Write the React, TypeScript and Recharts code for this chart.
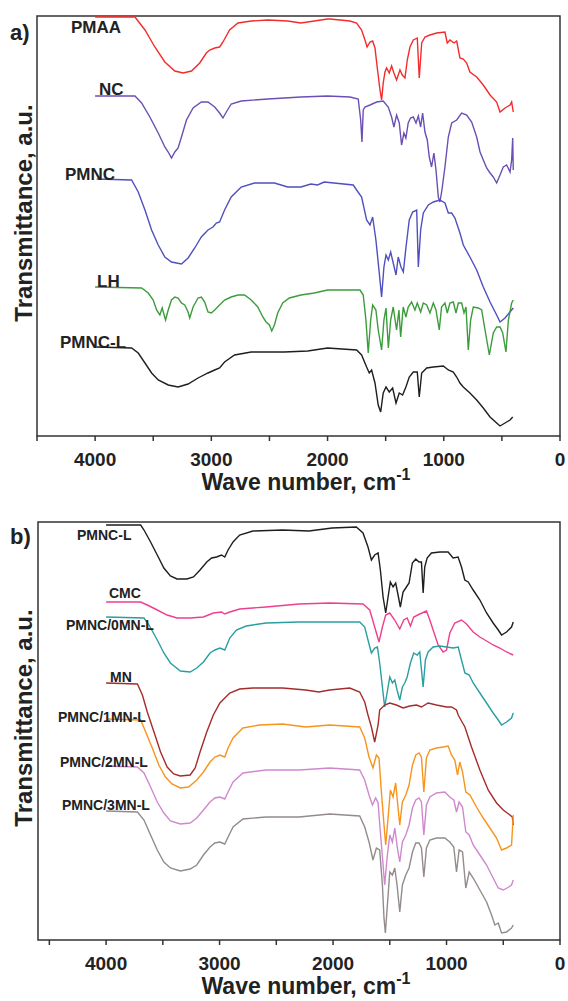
import { LineChart, Line, XAxis, YAxis, ReferenceArea } from 'recharts';

// FTIR spectra, [wave number cm-1, transmittance a.u. (offset stacked)]
const pmaa: [number, number][] = [
  [4000, 419], [3657, 419], [3571, 406], [3486, 389], [3400, 374], [3314, 365], [3243, 363], [3171, 365],
  [3100, 373], [3043, 383], [3014, 386], [2971, 388], [2929, 389], [2900, 394], [2843, 406], [2771, 413],
  [2657, 415], [2514, 416], [2343, 415], [2229, 413], [2114, 415], [2000, 417], [1979, 417], [1807, 415],
  [1750, 413], [1707, 406], [1678, 396], [1660, 389], [1635, 394], [1612, 395], [1592, 388], [1572, 368],
  [1549, 346], [1535, 336], [1521, 353], [1506, 364], [1492, 368], [1469, 363], [1449, 370], [1429, 363],
  [1406, 356], [1377, 366], [1357, 361], [1334, 358], [1314, 376], [1291, 389], [1262, 396], [1228, 398],
  [1211, 358], [1190, 393], [1162, 399], [1119, 401], [1061, 403], [990, 404], [970, 393], [947, 396],
  [912, 393], [889, 395], [861, 378], [832, 377], [803, 373], [775, 364], [717, 359], [660, 351],
  [602, 341], [545, 334], [516, 324], [473, 328], [430, 331], [416, 334], [402, 324],
];
const nc: [number, number][] = [
  [4000, 340], [3657, 340], [3600, 333], [3529, 319], [3457, 303], [3400, 289], [3371, 284], [3343, 278],
  [3314, 284], [3286, 288], [3257, 299], [3214, 316], [3157, 328], [3086, 334], [3029, 334], [2971, 329],
  [2929, 323], [2900, 318], [2871, 324], [2829, 332], [2743, 335], [2514, 337], [2229, 339], [2000, 340],
  [1807, 339], [1736, 337], [1715, 316], [1704, 294], [1693, 326], [1678, 329], [1635, 331], [1578, 334],
  [1521, 335], [1478, 329], [1449, 319], [1429, 309], [1406, 321], [1383, 313], [1363, 291], [1343, 303],
  [1326, 298], [1306, 313], [1286, 318], [1262, 319], [1239, 313], [1219, 320], [1199, 309], [1182, 323],
  [1162, 304], [1142, 296], [1125, 279], [1105, 269], [1085, 283], [1067, 266], [1047, 239], [1033, 234],
  [1016, 246], [990, 269], [961, 299], [932, 313], [889, 316], [846, 323], [803, 321], [760, 314],
  [717, 299], [688, 284], [660, 276], [631, 268], [602, 263], [574, 259], [545, 253], [516, 261],
  [488, 269], [459, 271], [430, 264], [416, 276], [407, 298], [402, 266],
];
const pmnc: [number, number][] = [
  [3986, 257], [3686, 256], [3629, 244], [3571, 226], [3514, 206], [3457, 191], [3400, 179], [3343, 174],
  [3257, 172], [3200, 178], [3143, 188], [3086, 199], [3029, 206], [2986, 209], [2957, 213], [2929, 214],
  [2886, 226], [2829, 239], [2743, 249], [2629, 253], [2457, 253], [2343, 249], [2229, 249], [2143, 252],
  [2086, 251], [2029, 254], [1779, 251], [1750, 246], [1707, 239], [1664, 216], [1635, 211], [1612, 219],
  [1584, 196], [1555, 163], [1535, 139], [1515, 169], [1497, 181], [1477, 176], [1457, 184], [1435, 173],
  [1411, 161], [1392, 179], [1368, 169], [1348, 164], [1325, 189], [1297, 216], [1268, 224], [1233, 226],
  [1219, 169], [1199, 206], [1176, 223], [1133, 231], [1090, 234], [1033, 236], [990, 233], [961, 223],
  [932, 223], [904, 218], [861, 203], [832, 191], [775, 179], [717, 166], [660, 149], [602, 134],
  [545, 121], [516, 114], [473, 118], [402, 128],
];
const lh: [number, number][] = [
  [4000, 149], [3600, 148], [3543, 143], [3500, 136], [3471, 126], [3443, 121], [3423, 128], [3394, 116],
  [3371, 126], [3343, 136], [3314, 139], [3286, 138], [3257, 133], [3229, 131], [3200, 124], [3186, 118],
  [3157, 129], [3114, 138], [3086, 139], [3057, 134], [3029, 124], [3000, 123], [2971, 126], [2929, 131],
  [2886, 136], [2829, 139], [2771, 141], [2714, 141], [2657, 136], [2600, 129], [2557, 119], [2529, 114],
  [2500, 111], [2480, 105], [2457, 111], [2429, 123], [2386, 133], [2329, 138], [2229, 141], [2114, 143],
  [2000, 146], [1721, 146], [1693, 141], [1670, 116], [1650, 83], [1629, 116], [1612, 131], [1584, 126],
  [1564, 106], [1535, 86], [1515, 116], [1497, 128], [1477, 88], [1457, 116], [1435, 129], [1406, 106],
  [1386, 126], [1371, 99], [1349, 129], [1326, 119], [1306, 129], [1277, 134], [1248, 126], [1228, 133],
  [1199, 124], [1176, 133], [1147, 131], [1119, 123], [1090, 133], [1067, 126], [1039, 106], [1019, 129],
  [990, 133], [970, 123], [947, 133], [918, 134], [895, 123], [875, 133], [846, 133], [826, 123],
  [809, 129], [789, 86], [769, 116], [746, 129], [703, 128], [674, 126], [645, 106], [608, 81],
  [574, 103], [545, 109], [516, 109], [493, 103], [465, 84], [444, 116], [416, 133], [402, 136],
];
const pmncLa: [number, number][] = [
  [3986, 89], [3686, 88], [3629, 83], [3571, 73], [3514, 63], [3457, 56], [3371, 51], [3286, 49],
  [3200, 52], [3114, 58], [3029, 63], [2971, 66], [2929, 68], [2886, 74], [2800, 81], [2657, 84],
  [2371, 84], [2171, 85], [2000, 88], [1750, 86], [1707, 81], [1664, 69], [1641, 63], [1621, 66],
  [1592, 53], [1564, 31], [1543, 24], [1521, 43], [1497, 49], [1469, 44], [1440, 48], [1411, 33],
  [1383, 43], [1354, 41], [1326, 49], [1297, 59], [1262, 64], [1228, 64], [1211, 39], [1190, 63],
  [1147, 68], [1090, 69], [1004, 70], [961, 66], [918, 64], [889, 59], [861, 53], [832, 49],
  [775, 43], [717, 36], [660, 28], [602, 19], [545, 13], [516, 10], [473, 13], [430, 16], [407, 19],
];

const pmncLb: [number, number][] = [
  [4000, 415], [3695, 415], [3666, 410], [3608, 398], [3549, 385], [3491, 372], [3433, 364], [3375, 361],
  [3288, 361], [3230, 363], [3172, 370], [3113, 378], [3070, 382], [3026, 383], [2983, 385], [2954, 383],
  [2925, 390], [2881, 398], [2823, 405], [2706, 409], [2445, 410], [2212, 409], [2009, 412], [1795, 413],
  [1736, 407], [1692, 393], [1662, 380], [1633, 385], [1603, 387], [1583, 370], [1559, 343], [1536, 327],
  [1515, 343], [1495, 358], [1471, 353], [1448, 357], [1427, 345], [1407, 333], [1383, 348], [1359, 352],
  [1330, 357], [1301, 377], [1271, 381], [1242, 378], [1221, 378], [1206, 347], [1192, 373], [1171, 382],
  [1133, 387], [1059, 388], [986, 388], [942, 382], [898, 383], [868, 373], [839, 360], [809, 358],
  [765, 350], [706, 340], [647, 327], [589, 317], [544, 310], [515, 305], [471, 308], [427, 313], [412, 318],
];
const cmc: [number, number][] = [
  [4000, 338], [3695, 338], [3637, 335], [3549, 330], [3462, 325], [3375, 322], [3259, 322], [3142, 323],
  [3055, 327], [2983, 328], [2954, 326], [2910, 328], [2823, 331], [2590, 333], [2299, 336], [2030, 337],
  [1736, 336], [1677, 330], [1633, 313], [1595, 298], [1565, 313], [1536, 325], [1500, 327], [1457, 320],
  [1412, 311], [1377, 320], [1347, 322], [1318, 314], [1289, 323], [1236, 326], [1177, 329], [1147, 320],
  [1118, 310], [1074, 295], [1030, 288], [1000, 290], [971, 307], [927, 317], [868, 320], [824, 316],
  [765, 308], [706, 303], [647, 299], [589, 295], [530, 292], [471, 288], [412, 285],
];
const mn0: [number, number][] = [
  [4000, 323], [3666, 322], [3622, 315], [3549, 300], [3491, 287], [3433, 277], [3346, 269], [3259, 268],
  [3201, 272], [3142, 278], [3084, 287], [3041, 290], [2997, 292], [2954, 290], [2910, 302], [2852, 310],
  [2765, 314], [2590, 317], [2299, 318], [2030, 318], [1765, 318], [1721, 313], [1692, 300], [1662, 287],
  [1633, 292], [1609, 293], [1589, 277], [1565, 253], [1545, 233], [1524, 247], [1500, 263], [1477, 257],
  [1456, 260], [1436, 250], [1412, 240], [1389, 253], [1368, 257], [1347, 263], [1318, 277], [1289, 287],
  [1259, 285], [1236, 288], [1206, 253], [1186, 280], [1162, 288], [1118, 293], [1059, 294], [1000, 293],
  [941, 292], [897, 293], [868, 280], [838, 267], [800, 265], [765, 257], [706, 247], [647, 237],
  [589, 227], [544, 220], [515, 215], [471, 218], [427, 222], [412, 227],
];
const mn: [number, number][] = [
  [4000, 257], [3724, 256], [3680, 245], [3637, 228], [3578, 208], [3520, 188], [3462, 173], [3404, 166],
  [3346, 164], [3259, 165], [3215, 172], [3172, 188], [3113, 208], [3055, 225], [2997, 237], [2910, 247],
  [2823, 251], [2706, 252], [2445, 252], [2241, 250], [2125, 248], [2030, 250], [1853, 252], [1765, 248],
  [1721, 238], [1692, 225], [1662, 213], [1633, 198], [1603, 215], [1589, 230], [1545, 235], [1500, 237],
  [1442, 235], [1383, 232], [1324, 234], [1265, 235], [1221, 233], [1162, 237], [1089, 235], [1000, 233],
  [956, 233], [912, 230], [897, 225], [868, 219], [838, 213], [780, 193], [706, 170], [633, 150],
  [559, 137], [500, 130], [441, 125], [420, 123], [412, 115],
];
const mn1: [number, number][] = [
  [4000, 221], [3695, 220], [3651, 208], [3593, 192], [3535, 175], [3477, 163], [3419, 156], [3346, 152],
  [3273, 153], [3201, 160], [3142, 168], [3084, 178], [3041, 183], [2997, 185], [2954, 183], [2925, 192],
  [2881, 202], [2794, 212], [2648, 215], [2445, 216], [2241, 213], [2030, 215], [1765, 213], [1721, 202],
  [1683, 183], [1648, 172], [1618, 185], [1595, 182], [1574, 148], [1553, 118], [1536, 95], [1515, 122],
  [1495, 150], [1471, 143], [1448, 157], [1427, 132], [1412, 115], [1389, 138], [1359, 145], [1330, 155],
  [1300, 175], [1271, 185], [1242, 187], [1221, 183], [1200, 148], [1177, 182], [1147, 190], [1089, 192],
  [1030, 193], [986, 194], [956, 185], [927, 180], [903, 165], [883, 178], [859, 168], [830, 148],
  [794, 145], [736, 133], [677, 122], [618, 112], [559, 102], [515, 90], [471, 92], [427, 95], [412, 125],
];
const mn2: [number, number][] = [
  [4000, 174], [3724, 173], [3666, 167], [3608, 153], [3549, 138], [3491, 127], [3433, 119], [3346, 116],
  [3259, 117], [3201, 122], [3142, 130], [3084, 138], [3041, 142], [2997, 143], [2954, 141], [2925, 148],
  [2881, 158], [2794, 167], [2590, 170], [2299, 170], [2030, 172], [1765, 170], [1721, 160], [1683, 145],
  [1653, 135], [1624, 142], [1603, 137], [1583, 108], [1559, 75], [1545, 55], [1524, 82], [1500, 105],
  [1477, 98], [1456, 112], [1433, 92], [1412, 78], [1389, 98], [1359, 105], [1330, 115], [1300, 132],
  [1271, 140], [1242, 142], [1221, 138], [1200, 105], [1177, 135], [1147, 143], [1089, 147], [1015, 148],
  [971, 143], [936, 140], [912, 128], [889, 138], [859, 133], [830, 108], [800, 105], [765, 95],
  [706, 85], [647, 75], [589, 62], [544, 52], [500, 50], [451, 53], [427, 55], [412, 60],
];
const mn3: [number, number][] = [
  [4000, 129], [3724, 128], [3666, 120], [3608, 105], [3549, 90], [3491, 78], [3433, 72], [3346, 69],
  [3259, 71], [3201, 75], [3142, 85], [3084, 93], [3041, 97], [2997, 98], [2954, 96], [2925, 103],
  [2881, 113], [2794, 121], [2590, 123], [2299, 123], [2030, 126], [1765, 124], [1721, 113], [1683, 98],
  [1648, 80], [1618, 92], [1589, 90], [1565, 55], [1551, 22], [1539, 7], [1521, 35], [1500, 68],
  [1477, 65], [1456, 72], [1436, 55], [1412, 28], [1389, 55], [1359, 65], [1330, 72], [1300, 88],
  [1271, 97], [1242, 97], [1221, 92], [1200, 63], [1177, 92], [1147, 100], [1089, 102], [1015, 102],
  [971, 98], [936, 93], [912, 68], [889, 90], [859, 88], [830, 52], [800, 68], [765, 62],
  [706, 50], [647, 38], [603, 25], [574, 15], [544, 17], [515, 7], [471, 8], [427, 12], [412, 15],
];

const ticks = [0, 500, 1000, 1500, 2000, 2500, 3000, 3500, 4000, 4500];

const FONT = '"Liberation Sans", Arial, sans-serif';

interface Series {
  name: string;
  color: string;
  points: [number, number][];
}

const seriesA: Series[] = [
  { name: 'PMAA', color: '#f52b2b', points: pmaa },
  { name: 'NC', color: '#6b4fb5', points: nc },
  { name: 'PMNC', color: '#4f4fbf', points: pmnc },
  { name: 'LH', color: '#3c9c3c', points: lh },
  { name: 'PMNC-L', color: '#1e1e1e', points: pmncLa },
];

const seriesB: Series[] = [
  { name: 'PMNC-L', color: '#1e1e1e', points: pmncLb },
  { name: 'CMC', color: '#ee3f8f', points: cmc },
  { name: 'PMNC/0MN-L', color: '#2a9ea0', points: mn0 },
  { name: 'MN', color: '#a62b2b', points: mn },
  { name: 'PMNC/1MN-L', color: '#f7941d', points: mn1 },
  { name: 'PMNC/2MN-L', color: '#cf88cf', points: mn2 },
  { name: 'PMNC/3MN-L', color: '#938c8a', points: mn3 },
];

function Panel({ series, xMax, yMax, left, top }: {
  series: Series[];
  xMax: number;
  yMax: number;
  left: number;
  top: number;
}) {
  const h = 470;
  return (
    <div style={{ position: 'absolute', left: 0, top }}>
      <LineChart
        width={568}
        height={h}
        margin={{ top: 16, right: 8, left, bottom: h - 16 - 30 - yMax }}
      >
        <XAxis
          dataKey="w"
          type="number"
          domain={[0, xMax]}
          reversed
          ticks={ticks}
          interval={0}
          tickFormatter={(v: number) => (v % 1000 === 0 ? String(v) : '')}
          tickSize={5}
          tickMargin={12}
          axisLine={false}
          tickLine={{ stroke: '#333', strokeWidth: 1.5 }}
          tick={{ fontSize: 19, fontWeight: 700, fill: '#222', fontFamily: FONT }}
          height={30}
        />
        <YAxis type="number" domain={[0, yMax]} hide />
        <ReferenceArea
          x1={xMax}
          x2={0}
          y1={0}
          y2={yMax}
          fill="none"
          fillOpacity={0}
          stroke="#333"
          strokeWidth={1.5}
        />
        {series.map(s => (
          <Line
            key={s.name}
            data={s.points.map(([w, t]) => ({ w, t }))}
            dataKey="t"
            type="linear"
            stroke={s.color}
            strokeWidth={1.4}
            dot={false}
            isAnimationActive={false}
          />
        ))}
      </LineChart>
    </div>
  );
}

const labelsA = [
  { text: 'PMAA', x: 71, y: 33 },
  { text: 'NC', x: 99, y: 95 },
  { text: 'PMNC', x: 65, y: 180 },
  { text: 'LH', x: 97, y: 287 },
  { text: 'PMNC-L', x: 60, y: 348 },
];

const labelsB = [
  { text: 'PMNC-L', x: 77, y: 540 },
  { text: 'CMC', x: 109, y: 598 },
  { text: 'PMNC/0MN-L', x: 66, y: 630 },
  { text: 'MN', x: 110, y: 682 },
  { text: 'PMNC/1MN-L', x: 58, y: 722 },
  { text: 'PMNC/2MN-L', x: 60, y: 767 },
  { text: 'PMNC/3MN-L', x: 62, y: 810 },
];

function Titles({ bottom, midY }: { bottom: number; midY: number }) {
  return (
    <>
      <text
        transform={`translate(32, ${midY}) rotate(-90)`}
        textAnchor="middle"
        fontSize={24}
        fontWeight={700}
        fill="#222"
      >
        Transmittance, a.u.
      </text>
      <text x={306} y={bottom + 54} textAnchor="middle" fontSize={23} fontWeight={700} fill="#222">
        Wave number, cm
        <tspan dy={-10} fontSize={16}>-1</tspan>
      </text>
    </>
  );
}

export default function App() {
  return (
    <div style={{ position: 'absolute', left: 0, top: 0, width: 568, height: 1001, background: '#fff' }}>
      <Panel series={seriesA} xMax={4500} yMax={420} left={37} top={0} />
      <Panel series={seriesB} xMax={4600} yMax={418} left={38} top={506} />
      <svg
        width={568}
        height={1001}
        style={{ position: 'absolute', left: 0, top: 0, pointerEvents: 'none', fontFamily: FONT }}
      >
        <text x={10} y={40} fontSize={22} fontWeight={700} fill="#222">a)</text>
        <text x={10} y={544} fontSize={22} fontWeight={700} fill="#222">b)</text>
        <Titles bottom={436} midY={213} />
        <Titles bottom={940} midY={718} />
        {labelsA.map(l => (
          <text key={'a' + l.text} x={l.x} y={l.y} fontSize={17} fontWeight={700} fill="#222">
            {l.text}
          </text>
        ))}
        {labelsB.map(l => (
          <text key={'b' + l.text} x={l.x} y={l.y} fontSize={14} fontWeight={700} fill="#222">
            {l.text}
          </text>
        ))}
      </svg>
    </div>
  );
}
